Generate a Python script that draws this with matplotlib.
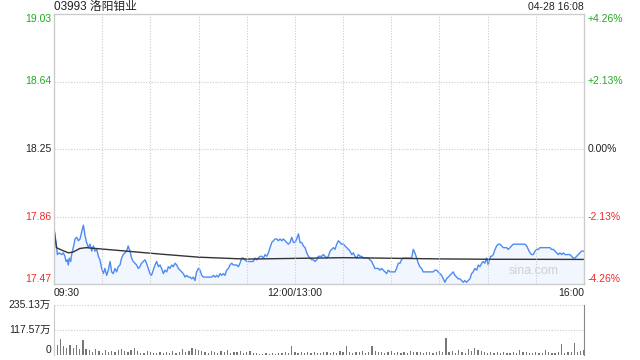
import matplotlib
matplotlib.use("Agg")
import matplotlib.pyplot as plt
import matplotlib.transforms as mtransforms

plt.rcParams['font.family'] = ['Liberation Sans', 'Noto Sans CJK SC', 'DejaVu Sans']

title = "03993 洛阳钼业"
stamp = "04-28 16:08"
prev_close = 18.25
price_ticks = [19.03, 18.64, 18.25, 17.86, 17.47]
pct_labels = ["+4.26%", "+2.13%", "0.00%", "-2.13%", "-4.26%"]
time_tick_pos = [0, 150, 330]
time_tick_labels = ["09:30", "12:00/13:00", "16:00"]
vol_ticks = [235.13, 117.57, 0]
vol_tick_labels = ["235.13万", "117.57万", "0"]

# trading minutes since 09:30 (lunch removed)
price_min = [0, 1.7, 2.1, 3.3, 4.8, 5.8, 6.8, 7.5, 8.3, 8.9, 9.5, 10.4, 11.0, 12.0, 13.1, 14.1, 15.2, 16.2,
             17.2, 18.3, 19.3, 20.3, 21.4, 22.4, 23.5, 24.5, 25.5, 26.6, 27.6, 28.6, 29.7, 30.7, 31.7, 32.8,
             33.8, 34.9, 35.9, 36.9, 38.0, 39.0, 40.0, 41.1, 42.1, 43.1, 44.2, 45.2, 46.2, 47.3, 48.3, 49.3,
             50.4, 51.4, 52.5, 53.5, 54.5, 55.6, 56.6, 57.6, 58.7, 59.7, 60.7, 61.8,
             62.9, 63.9, 65.0, 66.0, 67.0, 68.1, 69.1, 70.2, 71.2, 72.2, 73.3, 74.3, 75.4, 76.4, 77.4, 78.5,
             79.5, 80.5, 81.6, 82.6, 83.7, 84.7, 85.7, 86.8, 87.8, 88.8, 89.9, 90.9, 92.0, 93.0, 94.0, 95.1,
             96.1, 97.1, 98.2, 99.2, 100.3, 101.3, 102.3, 103.4, 104.4, 105.4, 106.5, 107.5, 108.6, 109.6,
             110.6, 111.7, 112.7, 113.7, 114.8, 115.8, 116.9, 117.9, 118.9, 120.0, 121.0, 122.0, 123.1,
             124.1, 125.1, 126.2, 127.2, 128.3,
             129.3, 130.4, 131.4, 132.5, 133.5, 134.5, 135.6, 136.6, 137.6, 138.7, 139.7, 140.8, 141.8,
             142.8, 143.9, 144.9, 145.9, 147.0, 148.0, 149.1, 150.1, 151.1, 152.2, 153.2, 154.2, 155.3,
             156.3, 157.4, 158.4, 159.4, 160.5, 161.5, 162.5, 163.6, 164.6, 165.7, 166.7, 167.7, 168.8,
             169.8, 170.8, 171.9, 172.9, 174.0, 175.0, 176.0, 177.1, 178.1, 179.1, 180.2, 181.2, 182.3,
             183.3, 184.3, 185.4, 186.4, 187.4, 188.5, 189.5, 190.6, 191.6, 192.6, 193.7,
             194.6, 195.7, 196.7, 197.8, 198.8, 199.8, 200.9, 201.9, 202.9, 204.0, 205.0, 206.1, 207.1,
             208.1, 209.2, 210.2, 211.2, 212.3, 213.3, 214.4, 215.4, 216.4, 217.5, 218.5, 219.5, 220.6,
             221.6, 222.7, 223.7, 224.7, 225.8, 226.8, 227.8, 228.9, 229.9, 231.0, 232.0, 233.0, 234.1,
             235.1, 236.1, 237.2, 238.2, 239.2, 240.3, 241.3, 242.4, 243.4, 244.4, 245.5, 246.5, 247.5,
             248.6, 249.6, 250.7, 251.7, 252.7, 253.8, 254.8, 255.8, 256.9, 257.9, 259.0, 260.0, 261.0,
             262.1, 263.2, 264.2, 265.2, 266.3, 267.3, 268.3, 269.4, 270.4, 271.0, 271.9, 272.5, 273.5,
             274.6, 275.6, 276.6, 277.7, 278.7, 279.8, 280.8, 281.8, 282.9, 283.9, 284.9, 286.0, 287.0,
             288.0, 289.1, 290.1, 291.2, 292.2, 293.2, 294.3, 295.3, 296.4, 297.4, 298.4, 299.5, 300.5,
             301.5, 302.6, 303.6, 304.7, 305.7, 306.7, 307.8, 308.8, 309.8, 310.9, 311.9, 313.0, 314.0,
             315.0, 316.1, 317.1, 318.1, 319.2, 320.2, 321.3, 322.3, 323.3, 324.4, 325.4, 326.4, 327.5,
             328.5, 329.6, 330.0]
price_val = [17.79, 17.68, 17.64, 17.65, 17.64, 17.65, 17.63, 17.60, 17.61, 17.58, 17.62, 17.60, 17.64,
             17.68, 17.73, 17.74, 17.72, 17.73, 17.77, 17.81, 17.75, 17.71, 17.68, 17.70, 17.66, 17.69,
             17.66, 17.67, 17.63, 17.61, 17.56, 17.53, 17.56, 17.52, 17.55, 17.60, 17.54, 17.53, 17.56,
             17.54, 17.57, 17.58, 17.62, 17.64, 17.65, 17.66, 17.69, 17.66, 17.62, 17.60, 17.59, 17.58,
             17.56, 17.57, 17.59, 17.60, 17.61, 17.59, 17.56, 17.53, 17.52, 17.55,
             17.58, 17.60, 17.57, 17.58, 17.56, 17.53, 17.55, 17.54, 17.57, 17.56, 17.58, 17.57, 17.59,
             17.58, 17.56, 17.55, 17.54, 17.53, 17.51, 17.52, 17.51, 17.51, 17.50, 17.51, 17.49, 17.54,
             17.56, 17.55, 17.52, 17.51, 17.51, 17.51, 17.51, 17.51, 17.51, 17.52, 17.51, 17.52, 17.51,
             17.53, 17.52, 17.53, 17.52, 17.55, 17.56, 17.58, 17.59, 17.58, 17.58, 17.58, 17.57, 17.59,
             17.62, 17.62, 17.61, 17.60, 17.60, 17.60, 17.60, 17.60, 17.62, 17.61, 17.62, 17.63,
             17.63, 17.62, 17.64, 17.63, 17.65, 17.68, 17.71, 17.72, 17.73, 17.73, 17.72, 17.73, 17.72,
             17.73, 17.72, 17.71, 17.70, 17.71, 17.74, 17.71, 17.71, 17.73, 17.76, 17.71, 17.71, 17.69,
             17.68, 17.65, 17.63, 17.62, 17.61, 17.61, 17.60, 17.61, 17.63, 17.63, 17.63, 17.64, 17.63,
             17.62, 17.63, 17.66, 17.67, 17.68, 17.67, 17.70, 17.72, 17.71, 17.70, 17.70, 17.69, 17.68,
             17.67, 17.66, 17.64, 17.65, 17.63, 17.62, 17.64, 17.63, 17.63, 17.62, 17.62,
             17.62, 17.62, 17.61, 17.60, 17.58, 17.56, 17.56, 17.56, 17.55, 17.56, 17.55, 17.54, 17.53,
             17.55, 17.54, 17.54, 17.54, 17.54, 17.56, 17.59, 17.59, 17.61, 17.62, 17.62, 17.62, 17.62,
             17.62, 17.62, 17.67, 17.65, 17.62, 17.59, 17.57, 17.56, 17.54, 17.54, 17.54, 17.54, 17.54,
             17.54, 17.54, 17.55, 17.55, 17.54, 17.53, 17.52, 17.50, 17.48, 17.50, 17.51, 17.52, 17.53,
             17.54, 17.52, 17.51, 17.50, 17.50, 17.49, 17.48, 17.49, 17.48, 17.49, 17.50, 17.53, 17.54,
             17.56, 17.55, 17.58, 17.57, 17.59, 17.60, 17.59, 17.62, 17.58, 17.61, 17.63, 17.63, 17.64,
             17.67, 17.69, 17.70, 17.70, 17.69, 17.68, 17.68, 17.68, 17.67, 17.68, 17.69, 17.70, 17.70,
             17.70, 17.70, 17.70, 17.70, 17.70, 17.70, 17.69, 17.67, 17.65, 17.64, 17.64, 17.66, 17.67,
             17.67, 17.68, 17.68, 17.68, 17.68, 17.68, 17.68, 17.68, 17.67, 17.67, 17.66, 17.65, 17.64,
             17.65, 17.64, 17.65, 17.64, 17.64, 17.64, 17.64, 17.63, 17.62, 17.62, 17.63, 17.64, 17.65,
             17.66, 17.66, 17.66]

avg_min = [0, 1.5, 5, 9, 12, 16, 20, 30, 45, 66, 90, 120, 150, 180, 200, 240, 270, 330]
avg_val = [17.79, 17.68, 17.665, 17.65, 17.655, 17.675, 17.68, 17.672, 17.66, 17.643, 17.625, 17.614,
           17.618, 17.622, 17.62, 17.615, 17.613, 17.612]

vol_min = list(range(0, 331, 2))
vol_val = [30, 45, 75, 40, 35, 45,
           35, 45, 30, 70, 30,
           25, 15, 30, 20, 10, 25, 15, 20, 12, 25,
           30, 20, 15, 25, 35, 20, 10, 8, 20, 12,
           10, 8, 12, 10, 15, 8, 20, 10, 15, 30,
           15, 20, 35, 30, 25, 20, 15, 10, 20, 15,
           10, 20, 15, 25, 10, 15, 12, 20, 10, 15,
           20, 10, 8, 5, 6, 8, 5, 10, 6, 8,
           10, 12, 8, 40, 15, 10, 12, 8, 15, 10,
           12, 8, 10, 12, 15, 8, 12, 10, 20, 12,
           40, 15, 10, 15, 12, 18, 10, 15, 40, 20,
           15, 12, 10, 15, 20, 10, 15, 8, 12, 10,
           20, 15, 12, 15, 10, 12, 15, 10, 12, 20,
           15, 78, 15, 20, 10, 25, 15, 10, 30, 20,
           35, 25, 20, 15, 10, 12, 8, 15, 10, 12,
           10, 8, 15, 10, 25, 15, 12, 10, 8, 12,
           10, 8, 25, 12, 8, 10, 15, 50, 10, 12,
           15, 55, 12, 20, 25]

W, H = 640, 360
fig = plt.figure(figsize=(6.4, 3.6), dpi=100)
L, R = 54, 584
ax = fig.add_axes([L / W, 1 - 284 / H, (R - L) / W, (284 - 14) / H])
axv = fig.add_axes([L / W, 1 - 355 / H, (R - L) / W, (355 - 305) / H])

green = "#22a822"
red = "#ee2a2a"
dark = "#222222"
grid_c = "#cccccc"

# price panel
ax.set_xlim(0, 330)
ax.set_ylim(price_ticks[-1], price_ticks[0])
ax.fill_between(price_min, price_val, price_ticks[-1], color="#f2f6fe", lw=0)
ax.plot(price_min, price_val, color="#4b8bf4", lw=1.0)
ax.plot(avg_min, avg_val, color="#333333", lw=1.0)
for t in range(30, 330, 30):
    ax.axvline(t, color=grid_c, lw=0.8, ls=(0, (1, 1.5)))
for p in price_ticks[1:-1]:
    ax.axhline(p, color=grid_c, lw=0.8, ls=(0, (1, 1.5)))
ax.set_xticks([])
ax.set_yticks([])
for s in ax.spines.values():
    s.set_color(grid_c)
    s.set_linewidth(1.0)

trans_l = mtransforms.blended_transform_factory(fig.transFigure, ax.transData)
colors = [green, green, dark, red, red]
vas = ["top", "center", "center", "center", "bottom"]
for p, lab, c, va in zip(price_ticks, pct_labels, colors, vas):
    ax.text((L - 3) / W, p, f"{p:.2f}", transform=trans_l, ha="right", va=va, color=c, fontsize=7.5)
    ax.text((R + 4) / W, p, lab, transform=trans_l, ha="left", va=va, color=c, fontsize=7.5)

for t, lab in zip(time_tick_pos, time_tick_labels):
    ha = "left" if t == 0 else ("right" if t == 330 else "center")
    ax.text(t, price_ticks[-1], lab, ha=ha, va="top", color=dark, fontsize=7.5,
            transform=ax.transData + mtransforms.ScaledTranslation(0, -4 / 100, fig.dpi_scale_trans))

fig.text(L / W, 1 - 7 / H, title, ha="left", va="center", fontsize=8.5, color=dark)
fig.text(R / W, 1 - 7 / H, stamp, ha="right", va="center", fontsize=7.5, color=dark)
ax.text(0.905, 0.025, "sina.com", transform=ax.transAxes, ha="center", va="bottom",
        fontsize=9, color="#d0d0d0")

# volume panel
axv.set_xlim(0, 330)
axv.set_ylim(0, vol_ticks[0])
axv.bar(vol_min, vol_val, width=0.8, color="#777777", lw=0)
for v in vol_ticks[:2]:
    axv.axhline(v, color=grid_c, lw=0.8, ls=(0, (1, 1.5)))
axv.set_xticks([])
axv.set_yticks([])
axv.spines["top"].set_visible(False)
axv.spines["bottom"].set_visible(False)
axv.spines["left"].set_color(grid_c)
axv.spines["right"].set_color("#888888")
trans_v = mtransforms.blended_transform_factory(fig.transFigure, axv.transData)
for v, lab in zip(vol_ticks, vol_tick_labels):
    va = "center" if v > 0 else "bottom"
    axv.text((L - 3) / W, v, lab, transform=trans_v, ha="right", va=va, color=dark, fontsize=7.5)

fig.savefig("out.png", dpi=100)
